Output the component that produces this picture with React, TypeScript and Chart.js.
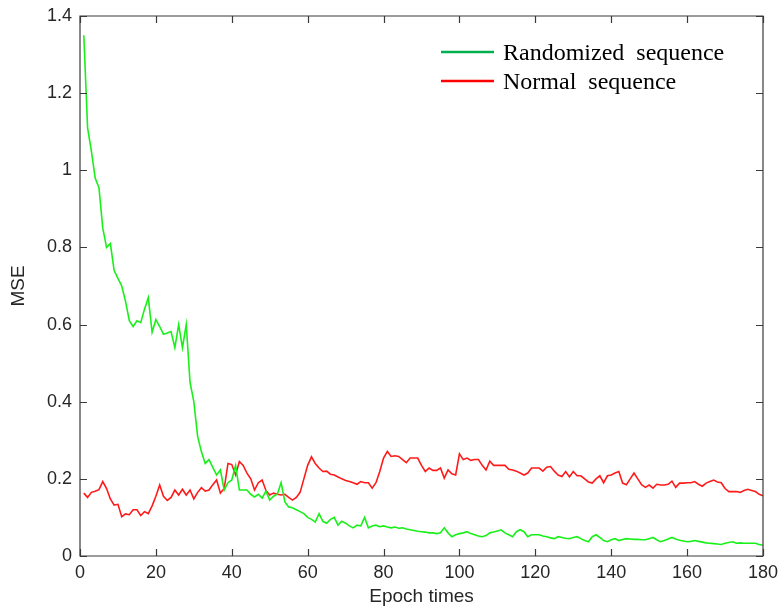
import React, { useEffect, useRef } from 'react';
import { Chart, registerables } from 'chart.js';

Chart.register(...registerables);

const seriesNames = ['Randomized  sequence', 'Normal  sequence'];
const xTicks = [0, 20, 40, 60, 80, 100, 120, 140, 160, 180];
const yTicks = [0, 0.2, 0.4, 0.6, 0.8, 1, 1.2, 1.4];
const firstEpoch = 1;

const randomized = [
  1.35, 1.11, 1.05, 0.98, 0.955, 0.85, 0.80, 0.81, 0.74, 0.72,
  0.70, 0.66, 0.61, 0.595, 0.61, 0.605, 0.64, 0.67, 0.58, 0.613,
  0.595, 0.575, 0.578, 0.582, 0.54, 0.60, 0.54, 0.60, 0.45, 0.40,
  0.31, 0.27, 0.24, 0.25, 0.23, 0.21, 0.223, 0.171, 0.19, 0.197,
  0.235, 0.171, 0.171, 0.171, 0.16, 0.153, 0.16, 0.15, 0.168, 0.145,
  0.155, 0.16, 0.19, 0.14, 0.127, 0.125, 0.12, 0.115, 0.11, 0.10,
  0.095, 0.088, 0.11, 0.09, 0.085, 0.095, 0.10, 0.08, 0.09, 0.085,
  0.078, 0.073, 0.08, 0.078, 0.10, 0.073, 0.078, 0.08, 0.076, 0.078,
  0.075, 0.073, 0.075, 0.072, 0.073, 0.07, 0.068, 0.066, 0.064, 0.063,
  0.062, 0.06, 0.06, 0.058, 0.06, 0.073, 0.06, 0.05, 0.055, 0.058,
  0.06, 0.063, 0.058, 0.055, 0.052, 0.05, 0.053, 0.06, 0.062, 0.065,
  0.068, 0.06, 0.055, 0.05, 0.063, 0.068, 0.063, 0.05, 0.055, 0.055,
  0.055, 0.052, 0.05, 0.047, 0.045, 0.05, 0.048, 0.046, 0.045, 0.048,
  0.05, 0.045, 0.04, 0.037, 0.05, 0.055, 0.048, 0.04, 0.037, 0.042,
  0.045, 0.04, 0.043, 0.045, 0.044, 0.043, 0.043, 0.042, 0.042, 0.045,
  0.048, 0.042, 0.037, 0.04, 0.044, 0.048, 0.044, 0.041, 0.039, 0.037,
  0.038, 0.04, 0.038, 0.036, 0.034, 0.033, 0.032, 0.031, 0.03, 0.033,
  0.035, 0.037, 0.033, 0.034, 0.033, 0.033, 0.033, 0.033, 0.03, 0.028,
];

const normal = [
  0.163, 0.152, 0.165, 0.168, 0.172, 0.193, 0.175, 0.148, 0.132, 0.134,
  0.102, 0.109, 0.107, 0.12, 0.12, 0.105, 0.115, 0.11, 0.13, 0.155,
  0.184, 0.155, 0.144, 0.152, 0.171, 0.158, 0.173, 0.158, 0.171, 0.148,
  0.165, 0.177, 0.168, 0.171, 0.185, 0.197, 0.163, 0.175, 0.24, 0.237,
  0.21, 0.245, 0.235, 0.215, 0.20, 0.171, 0.19, 0.197, 0.17, 0.158,
  0.163, 0.16, 0.158, 0.16, 0.152, 0.145, 0.152, 0.165, 0.20, 0.235,
  0.257, 0.24, 0.228, 0.219, 0.22, 0.212, 0.21, 0.205, 0.20, 0.196,
  0.193, 0.19, 0.186, 0.193, 0.19, 0.19, 0.176, 0.19, 0.219, 0.254,
  0.271, 0.258, 0.26, 0.258, 0.25, 0.242, 0.254, 0.254, 0.254, 0.235,
  0.219, 0.228, 0.222, 0.222, 0.228, 0.202, 0.223, 0.213, 0.21, 0.265,
  0.25, 0.254, 0.248, 0.25, 0.25, 0.235, 0.223, 0.246, 0.235, 0.235,
  0.235, 0.235, 0.225, 0.223, 0.22, 0.215, 0.21, 0.215, 0.228, 0.228,
  0.228, 0.22, 0.23, 0.232, 0.22, 0.21, 0.206, 0.219, 0.205, 0.219,
  0.208, 0.208, 0.20, 0.192, 0.189, 0.20, 0.208, 0.19, 0.208, 0.21,
  0.215, 0.219, 0.189, 0.185, 0.20, 0.215, 0.20, 0.185, 0.178, 0.184,
  0.176, 0.186, 0.184, 0.184, 0.186, 0.194, 0.178, 0.189, 0.189, 0.19,
  0.19, 0.193, 0.186, 0.181, 0.189, 0.193, 0.197, 0.192, 0.19, 0.175,
  0.167, 0.167, 0.167, 0.165, 0.17, 0.173, 0.17, 0.167, 0.16, 0.156,
];

const lineColors = ['#19f019', '#ff1a1a'];
const legendColors = ['#00b050', '#ff0000'];

const toPoints = (vals: number[]) => vals.map((v, i) => ({ x: firstEpoch + i, y: v }));

const framePlugin = {
  id: 'matlabFrame',
  afterDraw(chart: any) {
    const { ctx, chartArea, scales } = chart;
    const { left, right, top, bottom } = chartArea;
    const xs = scales.x;
    const ys = scales.y;
    const tl = 7;
    ctx.save();
    ctx.strokeStyle = '#3a3a3a';
    ctx.lineWidth = 1.2;
    ctx.beginPath();
    ctx.rect(left, top, right - left, bottom - top);
    ctx.stroke();
    ctx.beginPath();
    xTicks.forEach((v) => {
      const px = Math.round(xs.getPixelForValue(v)) + 0.5;
      ctx.moveTo(px, bottom);
      ctx.lineTo(px, bottom - tl);
      ctx.moveTo(px, top);
      ctx.lineTo(px, top + tl);
    });
    yTicks.forEach((v) => {
      const py = Math.round(ys.getPixelForValue(v)) + 0.5;
      ctx.moveTo(left, py);
      ctx.lineTo(left + tl, py);
      ctx.moveTo(right, py);
      ctx.lineTo(right - tl, py);
    });
    ctx.stroke();

    // legend
    const lx0 = 441;
    const lx1 = 494;
    const rows = [52, 81];
    ctx.font = '24px "Liberation Serif", "Times New Roman", serif';
    ctx.textBaseline = 'alphabetic';
    ctx.textAlign = 'left';
    rows.forEach((ry, i) => {
      ctx.strokeStyle = legendColors[i];
      ctx.lineWidth = 2.5;
      ctx.beginPath();
      ctx.moveTo(lx0, ry);
      ctx.lineTo(lx1, ry);
      ctx.stroke();
      ctx.fillStyle = '#000';
      ctx.fillText(seriesNames[i], 503, ry + 8);
    });
    ctx.restore();
  },
};

export default function App() {
  const ref = useRef<HTMLCanvasElement | null>(null);
  useEffect(() => {
    document.body.style.margin = '0';
    if (!ref.current) return;
    const chart = new Chart(ref.current, {
      type: 'line',
      data: {
        datasets: [
          {
            label: seriesNames[0],
            data: toPoints(randomized),
            borderColor: lineColors[0],
            borderWidth: 1.6,
            pointRadius: 0,
            tension: 0,
          },
          {
            label: seriesNames[1],
            data: toPoints(normal),
            borderColor: lineColors[1],
            borderWidth: 1.6,
            pointRadius: 0,
            tension: 0,
          },
        ],
      },
      options: {
        responsive: false,
        animation: false,
        devicePixelRatio: 1,
        layout: { padding: { top: 16, right: 16, left: 0, bottom: 0 } },
        plugins: {
          legend: { display: false },
          tooltip: { enabled: false },
        },
        scales: {
          x: {
            type: 'linear',
            min: 0,
            max: 180,
            afterBuildTicks: (axis: any) => {
              axis.ticks = xTicks.map((v) => ({ value: v }));
            },
            afterFit: (axis: any) => {
              axis.height = 56;
              axis.paddingLeft = 0;
              axis.paddingRight = 0;
            },
            grid: { display: false, drawTicks: false },
            border: { display: false },
            ticks: {
              padding: 6,
              color: '#262626',
              font: { family: '"Liberation Sans", Arial, sans-serif', size: 18 },
              maxRotation: 0,
              autoSkip: false,
            },
            title: {
              display: true,
              text: 'Epoch times',
              color: '#262626',
              font: { family: '"Liberation Sans", Arial, sans-serif', size: 19 },
              padding: { top: 0, bottom: 4 },
            },
          },
          y: {
            type: 'linear',
            min: 0,
            max: 1.4,
            afterBuildTicks: (axis: any) => {
              axis.ticks = yTicks.map((v) => ({ value: v }));
            },
            afterFit: (axis: any) => {
              axis.width = 80;
              axis.paddingTop = 0;
              axis.paddingBottom = 0;
            },
            grid: { display: false, drawTicks: false },
            border: { display: false },
            ticks: {
              padding: 8,
              color: '#262626',
              font: { family: '"Liberation Sans", Arial, sans-serif', size: 18 },
              autoSkip: false,
              callback: (v: any) => String(Number(Number(v).toFixed(1))),
            },
            title: {
              display: true,
              text: 'MSE',
              color: '#262626',
              font: { family: '"Liberation Sans", Arial, sans-serif', size: 19 },
              padding: { top: 7, bottom: 0 },
            },
          },
        },
      },
      plugins: [framePlugin],
    });
    return () => chart.destroy();
  }, []);
  return (
    <div style={{ position: 'absolute', left: 0, top: 0, width: 779, height: 612, background: '#fff' }}>
      <canvas ref={ref} width={779} height={612} style={{ display: 'block' }} />
    </div>
  );
}
